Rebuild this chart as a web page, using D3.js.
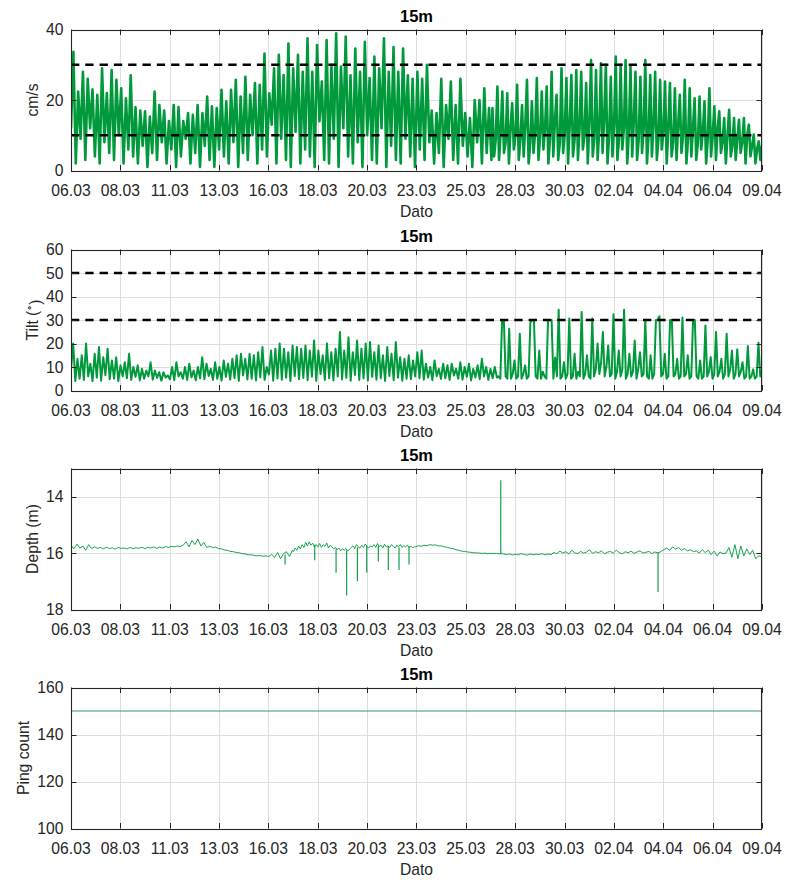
<!DOCTYPE html>
<html><head><meta charset="utf-8">
<script src="https://cdn.jsdelivr.net/npm/d3@7"></script>
<style>
body{margin:0;background:#fff}
svg{display:block}
text{font-family:"Liberation Sans",Arial,Helvetica,sans-serif;fill:#262626}
</style>
</head><body><svg id="c" width="794" height="896"></svg>
<script>
// ---------- DATA ----------
// x axis: day-of-March (fractional), ticks equally spaced as in the source
const xTickDays   = [6.30, 8.73, 11.16, 13.59, 16.02, 18.45, 20.88, 23.31, 25.74, 28.17, 30.60, 33.03, 35.46, 37.89, 40.32];
const xTickLabels = ["06.03","08.03","11.03","13.03","16.03","18.03","20.03","23.03","25.03","28.03","30.03","02.04","04.04","06.04","09.04"];
const dayStart = 6.30, dayEnd = 40.32;

// Panel 1: current speed (cm/s)
const speedStart = 12;
const speedPeaksA = [33.7,22.4,28,26,23,21.5,29,22,28.5,25.7,23.3,20.5,27,18,17,16.8,15.3,22.4,18.6,17,14,18.6,18,14,16.3,15.8,18.6,16.3,21,18.2,17.7,22.9,19.6,22.9,25.7,21,26.6,21.5,24.8,24.3,33.2,21.9,29,32.8,27.1,36,29,32.8,28,37.5,28,35.6,25.2,37,30,38.9,29.5,38,27,34.6,28,36.5,26.2,32.3,29,37.5,28,35,28,34.6,27,
  26,28,26,30,17,16.3,26,18.6,25.2,18.6,26,16.3,14.9,20,20,23.3,17.7];
const speedTroughsA = [2,9,3,12,4,2,8,5,3,10,2,6,
  4,2,7,1,5,3,8,2,6,1,4,9,2,5,1,7,3,1,6,4,2,8,1,5,3,10,2,6,
  4,13,2,9,3,1,11,2,6,4,1,14,3,2,9,1,12,4,2,8,1,10,3,2,12,1,7,3,2,9,4,
  1,6,3,8,2,5,1,9,3,2,7,4,1,8,2,5,3];
// late part: peak, low, mid triplets (dense band)
const speedB = [17.7,4,9, 23.8,3,11, 22.4,5,8, 21.9,2,12, 19.1,6,10, 24.3,3,9, 18.6,4,13, 25.7,2,8, 19.6,5,11, 26.2,3,10,
  22.4,6,12, 23.8,2,9, 28,4,14, 21.5,3,8, 29,5,11, 26.2,2,13, 27.1,4,9, 28.5,3,12, 28,6,10, 24.8,2,14,
  31.3,4,9, 28.5,3,12, 30.4,5,15, 30,2,10, 26.6,4,13, 32.3,3,9, 30,6,12, 31.3,2,11, 29.5,4,14, 28,3,9,
  26.6,5,12, 31.3,2,10, 27.1,4,13, 28,3,9, 25.7,6,11, 25.2,2,12, 24.8,4,8, 23.3,3,13, 21.5,5,10, 25.7,2,9,
  23.3,4,12, 20.5,3,8, 21,6,11, 19.6,2,9, 23.3,4,10, 18.2,3,12, 16.8,5,8, 14.9,2,10, 17.2,4,7, 14.9,3,9,
  14.4,5,8, 14.9,2,10, 13,4,7, 10.2,2,6, 8.3,3,7];
const speedSegDays = [6.30, 27.00, 27.05, 40.32];
const speedLimits = [10, 30];

// Panel 2: tilt (degrees)
const tiltStart = 9;
const tiltPeaksA = [20,13.5,15,20,11.4,15.6,18.5,14.2,17.8,12.8,14.2,10.7,12,15.6,10,10.7,9.2,8.5,12,8.5,7.8,7.8,6.4,10,12,7.8,10,11.4,8.5,10,
  14.2,11.4,9.2,12,10,12.8,11.4,13.5,15,15.6,13.5,15.6,15,16.3,18.5,10,17,17.8,20,17.8,16.3,19.2,18.5,17.8,19.2,17,21.3,17,15,20,
  16.3,17.8,24.9,17,22.7,16.3,21.3,17.8,20,20.6,16.3,19.2,15,18.5,15.6,20.6,14.2,
  13.5,15,12.8,16.3,17,11.4,10,12.8,9.2,11.4,10.7,11.4,9.2,12,10,11.4,9.2,10.7,13.5,10,9.2,10];
const tiltTroughsA = [4,5,4.5,6,4,5.5,4.2,6.5,4.8,5,4,6,5.2,4.5,5.8,4.3,5,6,4.6,5.4,4.2,5.5,4.8,4.4,6,5,4.5,5.6,4.3,5.2,
  4.8,6.2,4.5,5,4.2,5.8,4.6,5.3,4.1,6.4,4.7,5,4.3,5.6,4.5,6.8,4.2,5.1,4.6,5.5,4,6.2,4.8,5.3,4.4,5.9,4.1,7,4.5,5.2,
  4.3,6,4.7,5.4,4.2,6.6,4.5,5.1,4.3,5.8,4.6,5.2,4.1,6.2,4.4,5.5,4.2,5,4.8,6,5.2,4.6,5.5,4.4,6.1,4.9,5.2,4.5,6.4,5,
  4.6,5.8,4.3,5.5,4.8,6,4.5,5.2,5.5];
const tiltB = [6,5,30,30,6,5,26.3,5,7,12.8,5,6,24.2,5,7,10.7,5,6,29,30,30,6,5,17,5,8,6,5,30,30,30,5,14,6,34.4,5,6,12,5,7,
  30.6,5,6,15.6,5,8,6,33.4,5,7,15,6,5,30.6,6,9,20,7,12,24.9,6,10,19.2,6,7,32.4,5,8,17,6,9,34.4,5,7,15.6,6,8,21.3,5,9,
  16.3,6,7,30,6,5,15,5,7,30,30,31.6,6,7,15.6,5,6,30,30,6,7,13.5,5,6,31.1,6,7,15,5,6,30,30,6,5,12.8,5,6,27.7,6,8,
  14.2,5,7,24.9,6,8,13.5,5,7,24.2,6,9,17,5,7,17.5,6,8,12,5,6,18.9,5,6,9,5,6,20.3,6,7];
const tiltSegDays = [6.30, 27.27, 27.35, 40.32];
const tiltLimits = [30, 50];

// Panel 3: depth (m) — slow signal in segments, plus isolated spikes
const depth1 = [15.72,15.85,15.68,15.82,15.75,15.9,15.7,15.84,
  15.78,15.83,15.8,15.85,15.79,15.84,15.81,15.86,15.8,15.83,15.82,15.85,15.8,15.84,15.81,15.83,15.79,15.84,15.8,15.82,15.78,15.83,15.79,15.82,15.77,15.8,15.76,15.78,15.75,15.77,
  15.72,15.6,15.78,15.55,15.7,15.5,15.75,15.62,15.8,
  15.76,15.8,15.79,15.84,15.85,15.89,15.9,15.94,15.95,15.98,15.99,16.02,16.03,16.06,16.06,16.08,16.1,16.09,16.11,16.1,16.12,
  16.05,16.15,15.98,16.2,16.02,15.95,16.12,15.9];
const depth2 = [15.95,15.82,15.9,15.75,15.85,15.7,15.8,
  15.62,15.75,15.6,15.72,15.65,15.78,
  15.7,15.78,15.66,15.8,15.7,15.76,15.64,15.82,15.72,15.78,15.85,15.8,
  15.88,15.82,15.92,15.85,15.9,15.84,15.93,15.86,
  15.8,15.74,15.84,15.7,15.78,15.82,15.72,15.8,15.68,15.76,15.82,15.74,
  15.78,15.7,15.8,15.66,15.76,15.72,15.82,15.68,15.78,15.74,15.8,15.7,15.76,15.82,15.72,15.78,15.7,15.8,15.74,15.78,15.72,15.8,15.76,15.8,15.78];
const depth3 = [15.78,15.74,15.76,15.72,15.74,15.7,15.72,15.71,15.75,15.74,15.78,15.79,15.83,15.84,15.88,15.9,15.93,15.94,15.96,15.97,
  15.99,15.99,16.0,16.01,16.0,16.02,16.01,16.02,16.01,16.03];
const depth4 = [16.02,16.03,
  16.05,16.03,16.07,16.04,16.06,16.02,16.05,16.07,16.03,16.06,16.04,16.05,16.02,16.06,16.03,16.05,
  15.98,16.02,15.93,16.0,15.95,16.03,15.9,15.99,16.02,15.94,16.0,15.96,15.88,16.01,15.95,15.99,15.92,16.02,15.97,15.94,16.0,15.9,15.98,16.03,15.95,15.99,15.93,16.01,15.96,15.92,16.0,15.97,15.94,16.02,15.96,15.99,
  15.95,15.88,15.82,15.9,15.78,15.86,15.8,15.9,15.84,15.92,15.88,15.95,
  15.92,16.0,15.88,15.98,15.9,16.05,15.93,16.1,15.96,16.02,16.0,
  15.8,16.15,15.7,16.2,15.75,16.1,15.85,16.05,15.9,16.2,16.1,16.12];
const depthSegDays = [6.30, 17.20, 17.25, 23.20, 23.25, 27.40, 27.45, 40.30];
const depthSpikeDays   = [16.84, 18.30, 19.35, 19.87, 20.40, 20.86, 21.43, 21.92, 22.45, 22.94, 27.46, 35.20, 40.31];
const depthSpikeValues = [16.40, 16.25, 16.70, 17.50, 17.00, 16.70, 16.30, 16.60, 16.60, 16.40, 13.42, 17.38, 13.00];
const depthSpikeBase   = [16.05, 15.70, 15.85, 15.90, 15.80, 15.75, 15.75, 15.75, 15.80, 15.75, 16.03, 15.97, 16.12];

// Panel 4: ping count
const pingDays = [6.30, 40.32];
const pingValues = [150, 150];

// ---------- HELPERS ----------
function spread(d0, d1, vals){ return vals.map((v,i)=>[d0 + i*(d1-d0)/(vals.length-1), v]); }
function interleave(start, peaks, troughs){
  const out=[start]; const n=Math.min(peaks.length, troughs.length);
  for(let i=0;i<n;i++){ out.push(peaks[i], troughs[i]); }
  return out;
}

const speedSeries = spread(speedSegDays[0], speedSegDays[1], interleave(speedStart, speedPeaksA, speedTroughsA))
  .concat(spread(speedSegDays[2], speedSegDays[3], speedB));
const tiltSeries = spread(tiltSegDays[0], tiltSegDays[1], interleave(tiltStart, tiltPeaksA, tiltTroughsA))
  .concat(spread(tiltSegDays[2], tiltSegDays[3], tiltB));
const depthSeries = spread(depthSegDays[0], depthSegDays[1], depth1)
  .concat(spread(depthSegDays[2], depthSegDays[3], depth2))
  .concat(spread(depthSegDays[4], depthSegDays[5], depth3))
  .concat(spread(depthSegDays[6], depthSegDays[7], depth4));
const depthSpikes = depthSpikeDays.map((d,i)=>({day:d, base:depthSpikeBase[i], value:depthSpikeValues[i]}));
const pingSeries = pingDays.map((d,i)=>[d, pingValues[i]]);

// ---------- DRAW ----------
const svg = d3.select("#c");
const L = 71, R = 762, H = 141;
const x = d3.scaleLinear().domain([dayStart, dayEnd]).range([L, R]);
const green = "#009a3c";

const panels = [
  {top: 29.5, domain:[0,40], ticks:[0,20,40], label:"cm/s", lx:38, series:speedSeries, w:2.6, color:green, limits:speedLimits},
  {top: 249.5, domain:[0,60], ticks:[0,10,20,30,40,50,60], label:"tilt", lx:38, series:tiltSeries, w:2.0, color:green, limits:tiltLimits},
  {top: 468.5, domain:[13,18], reverse:true, ticks:[14,16,18], label:"Depth (m)", lx:38, series:depthSeries, w:0.9, color:green, limits:[], spikes:depthSpikes},
  {top: 687.5, domain:[100,160], ticks:[100,120,140,160], label:"Ping count", lx:28.5, series:pingSeries, w:1, color:"#2f9a66", limits:[]}
];

panels.forEach((p, pi)=>{
  const top = p.top, bot = p.top + H;
  const y = d3.scaleLinear().domain(p.domain).range(p.reverse ? [top, bot] : [bot, top]);
  const g = svg.append("g");
  const cid = "clip"+pi;
  svg.append("clipPath").attr("id", cid).append("rect").attr("x", L).attr("y", top).attr("width", R-L).attr("height", H);

  // grid
  g.append("g").selectAll("line").data(xTickDays).join("line")
    .attr("x1", d=>Math.round(x(d))+0.5).attr("x2", d=>Math.round(x(d))+0.5)
    .attr("y1", top).attr("y2", bot).attr("stroke", "#dedede").attr("stroke-width", 1);
  g.append("g").selectAll("line").data(p.ticks).join("line")
    .attr("y1", d=>Math.round(y(d))+0.5).attr("y2", d=>Math.round(y(d))+0.5)
    .attr("x1", L).attr("x2", R).attr("stroke", "#dedede").attr("stroke-width", 1);

  // data line
  const line = d3.line().x(d=>x(d[0])).y(d=>y(d[1]));
  g.append("path").datum(p.series).attr("d", line).attr("fill", "none")
    .attr("stroke", p.color).attr("stroke-width", p.w).attr("stroke-linejoin", "round")
    .attr("clip-path", `url(#${cid})`);
  if (p.spikes) {
    g.append("g").attr("clip-path", `url(#${cid})`).selectAll("line").data(p.spikes).join("line")
      .attr("x1", d=>x(d.day)).attr("x2", d=>x(d.day))
      .attr("y1", d=>y(d.base)).attr("y2", d=>y(d.value))
      .attr("stroke", p.color).attr("stroke-width", 1.1);
  }

  // limit lines
  g.append("g").selectAll("line").data(p.limits).join("line")
    .attr("x1", L).attr("x2", R).attr("y1", d=>y(d)).attr("y2", d=>y(d))
    .attr("stroke", "#000").attr("stroke-width", 2.6).attr("stroke-dasharray", "8.3,6");

  // box
  g.append("rect").attr("x", L+0.5).attr("y", Math.round(top)+0.5).attr("width", R-L-1).attr("height", H)
    .attr("fill", "none").attr("stroke", "#262626").attr("stroke-width", 1.1);

  // ticks (inward, all four sides)
  const tk = 5.5;
  const tg = g.append("g").attr("stroke", "#262626").attr("stroke-width", 1);
  xTickDays.forEach(d=>{
    const xx = Math.round(x(d))+0.5;
    tg.append("line").attr("x1", xx).attr("x2", xx).attr("y1", bot).attr("y2", bot-tk);
    tg.append("line").attr("x1", xx).attr("x2", xx).attr("y1", top).attr("y2", top+tk);
  });
  p.ticks.forEach(d=>{
    const yy = Math.round(y(d))+0.5;
    tg.append("line").attr("x1", L).attr("x2", L+tk).attr("y1", yy).attr("y2", yy);
    tg.append("line").attr("x1", R).attr("x2", R-tk).attr("y1", yy).attr("y2", yy);
  });

  // x tick labels
  g.append("g").selectAll("text").data(xTickDays).join("text")
    .attr("x", d=>x(d)).attr("y", bot+25).attr("text-anchor", "middle")
    .style("font-size", "15.7px").text((d,i)=>xTickLabels[i]);
  // y tick labels
  g.append("g").selectAll("text").data(p.ticks).join("text")
    .attr("x", 63.5).attr("y", d=>y(d)).attr("dy", "0.36em").attr("text-anchor", "end")
    .style("font-size", "15.7px").text(d=>d);

  // title
  g.append("text").attr("x", (L+R)/2).attr("y", top-7.5).attr("text-anchor", "middle")
    .style("font-size", "16.5px").style("font-weight", "bold").style("fill", "#000").text("15m");
  // x label
  g.append("text").attr("x", (L+R)/2).attr("y", bot+46).attr("text-anchor", "middle")
    .style("font-size", "15.7px").text("Dato");
  // y label
  const yl = g.append("text").attr("transform", `translate(${p.lx},${(top+bot)/2}) rotate(-90)`)
    .attr("text-anchor", "middle").style("font-size", "15.7px");
  if (p.label === "tilt") {
    yl.append("tspan").text("Tilt (");
    yl.append("tspan").attr("dy", "-0.6em").style("font-size", "10px").text("\u2218");
    yl.append("tspan").attr("dy", "0.6em").text(")");
  } else {
    yl.text(p.label);
  }
});
</script>
</body></html>
